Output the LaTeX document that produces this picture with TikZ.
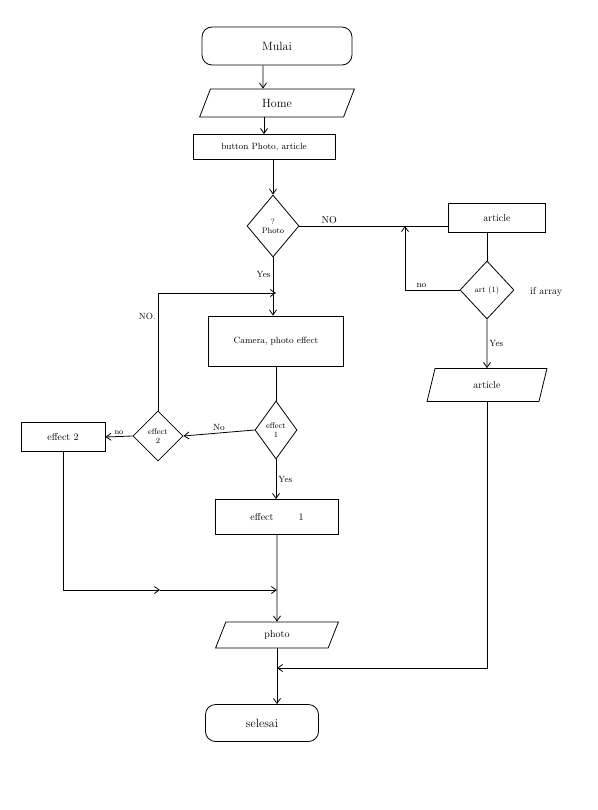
\documentclass[tikz,border=0pt]{standalone}
\usetikzlibrary{shapes.geometric,arrows.meta}
\begin{document}
\begin{tikzpicture}[x=1pt,y=-1pt,
  every node/.style={font=\normalsize},
  base/.style={draw, line width=0.8pt, inner sep=1pt},
  term/.style={base, rectangle, rounded corners=10pt, font=\large},
  proc/.style={base, rectangle},
  io/.style={base, trapezium, trapezium left angle=76, trapezium right angle=104, trapezium stretches=true},
  dec/.style={base, diamond, inner sep=0pt},
  arr/.style={line width=0.8pt, -{Straight Barb[length=5pt,width=7pt]}},
  ln/.style={line width=0.8pt},
  lbl/.style={font=\small, inner sep=2pt}
]
\useasboundingbox[fill=white] (0,0) rectangle (597,810);

% nodes
\node[term, minimum width=150pt, minimum height=38pt] (mulai) at (277,46) {Mulai};
\node[io, minimum width=155pt, minimum height=28pt, font=\large] (home) at (277,103) {Home};
\node[proc, minimum width=142pt, minimum height=25pt] (btn) at (264,147) {\small button Photo, article};
\node[dec, minimum width=52pt, minimum height=62pt, label={[font=\footnotesize, align=center]center:?\\Photo}] (dphoto) at (273,226) {};
\node[proc, minimum width=97pt, minimum height=29pt] (art1) at (497,218) {article};
\node[dec, minimum width=54pt, minimum height=58pt, label={[font=\footnotesize]center:art (1)}] (dart) at (487,290) {};
\node[lbl, anchor=west, font=\normalsize] (ifarr) at (528,292) {if array};
\node[io, minimum width=120pt, minimum height=33pt] (art2) at (487,385) {article};
\node[proc, minimum width=135pt, minimum height=50pt] (cam) at (276,341) {\small Camera, photo effect};
\node[dec, minimum width=42pt, minimum height=58pt, label={[font=\footnotesize, align=center]center:effect\\1}] (deff1) at (276,430) {};
\node[dec, minimum width=50pt, minimum height=50pt, label={[font=\footnotesize, align=center]center:effect\\2}] (deff2) at (158,436) {};
\node[proc, minimum width=84pt, minimum height=29pt] (eff2) at (63,437) {effect 2};
\node[proc, minimum width=123pt, minimum height=35pt] (eff1) at (277,517) {effect\hspace{2.5em}1};
\node[io, minimum width=123pt, minimum height=26pt] (photo) at (277,635) {photo};
\node[term, minimum width=113pt, minimum height=37pt] (selesai) at (262,723) {selesai};

% junction coordinates
\coordinate (jn) at (405,226);
\coordinate (j0) at (276,293);
\coordinate (jm) at (160,590);
\coordinate (j1) at (277,590);
\coordinate (j2) at (277,668);

% connectors
\draw[arr] ([xshift=-14pt]mulai.south) -- ([xshift=-14pt]home.north);
\draw[arr] (home.south -| btn.north) -- (btn.north);
\draw[arr] (btn.south -| dphoto.north) -- (dphoto.north);
\draw[ln] (dphoto.east) -- node[lbl, above, pos=0.2, font=\normalsize] (lno1) {NO} (dphoto.east -| art1.west);
\draw[ln] (art1.south -| dart.north) -- (dart.north);
\draw[arr] (dart.west) -| node[lbl, above, pos=0.35] (lno2) {no} (jn);
\draw[arr] (dart.south) -- node[lbl, right] (lyes1) {Yes} (art2.north);
\draw[arr] (art2.south) |- (j2);
\draw[arr] (dphoto.south) -- node[lbl, left, pos=0.3] (lyes2) {Yes} (dphoto.south |- cam.north);
\draw[arr] (deff2.north) |- node[lbl, left, pos=0.4] (lno3) {NO.} (j0);
\draw[ln] (cam.south -| deff1.north) -- (deff1.north);
\draw[arr] (deff1.west) -- node[lbl, above] (lno4) {No} (deff2.east);
\draw[arr] (deff2.west) -- node[lbl, above, font=\footnotesize] (lno5) {no} (eff2.east);
\draw[arr] (deff1.south) -- node[lbl, right] (lyes3) {Yes} (deff1.south |- eff1.north);
\draw[arr] (eff1.south) -- (photo.north);
\draw[arr] (eff2.south) |- (jm);
\draw[arr] (jm) -- (j1);
\draw[arr] (photo.south) -- (photo.south |- selesai.north);
\end{tikzpicture}
\end{document}
